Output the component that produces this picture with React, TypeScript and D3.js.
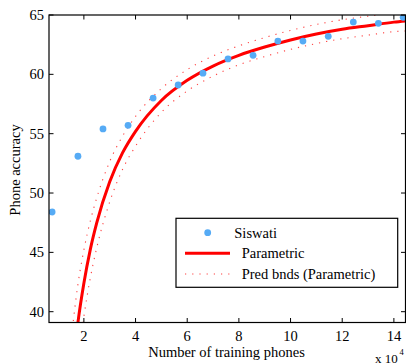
import React from "react";
import * as d3 from "d3";

// measured data (x in units of 10^4 phones)
const phones = [0.77, 1.77, 2.74, 3.71, 4.68, 5.65, 6.61, 7.58, 8.55, 9.51, 10.48, 11.46, 12.43, 13.4, 14.36];
const accuracy = [48.4, 53.1, 55.4, 55.7, 58.0, 59.1, 60.1, 61.3, 61.6, 62.8, 62.8, 63.2, 64.4, 64.3, 64.8];

// parametric fit and prediction bounds
const fitPhones = [1.5, 1.6, 1.77, 2.0, 2.25, 2.5, 3.0, 3.5, 4.0, 5.0, 6.0, 7.0, 8.0, 9.0, 10, 11, 12, 13, 14, 14.45];
const fitAccuracy = [33.8, 36.0, 39.1, 42.4, 45.25, 47.5, 50.95, 53.4, 55.2, 57.8, 59.5, 60.7, 61.6, 62.3, 62.9, 63.4, 63.8, 64.1, 64.4, 64.5];
const upperBound = [37.4, 39.4, 42.3, 45.2, 47.65, 49.6, 52.65, 54.8, 56.45, 58.8, 60.4, 61.55, 62.4, 63.1, 63.7, 64.2, 64.6, 64.9, 65.2, 65.35];
const lowerBound = [30.0, 32.6, 35.9, 39.6, 42.85, 45.4, 49.25, 52.0, 53.95, 56.8, 58.6, 59.85, 60.8, 61.5, 62.1, 62.6, 63.0, 63.3, 63.6, 63.65];

const xTicks = [2, 4, 6, 8, 10, 12, 14];
const yTicks = [40, 45, 50, 55, 60, 65];
const legendLabels = ["Siswati", "Parametric", "Pred bnds (Parametric)"];

const W = 406;
const H = 364;
const m = { left: 49, right: 405.5, top: 15, bottom: 322.5 };
const font = "'Liberation Serif', 'Times New Roman', serif";
const fs = 14.5;

export default function App() {
  const x = d3.scaleLinear().domain([0.65, 14.45]).range([m.left, m.right]);
  const y = d3.scaleLinear().domain([40, 65]).range([311.7, m.top]);

  const line = d3
    .line<number>()
    .x((d, i) => x(fitPhones[i]))
    .curve(d3.curveMonotoneX);
  const fitPath = line.y((d) => y(d))(fitAccuracy) ?? "";
  const upPath = line.y((d) => y(d))(upperBound) ?? "";
  const lowPath = line.y((d) => y(d))(lowerBound) ?? "";

  const tick = 4.5;
  const blue = "#56abf5";

  return (
    <svg
      width={W}
      height={H}
      style={{ position: "absolute", left: 0, top: 0, background: "#fff" }}
      fontFamily={font}
    >
      <defs>
        <clipPath id="plot">
          <rect x={m.left} y={m.top} width={m.right - m.left} height={m.bottom - m.top} />
        </clipPath>
      </defs>

      <g clipPath="url(#plot)">
        <path d={upPath} fill="none" stroke="#ff4040" strokeWidth={1.1} strokeDasharray="1.2 6" />
        <path d={lowPath} fill="none" stroke="#ff4040" strokeWidth={1.1} strokeDasharray="1.2 6" />
        <path d={fitPath} fill="none" stroke="#ff0000" strokeWidth={3} />
        {phones.map((p, i) => (
          <circle key={i} cx={x(p)} cy={y(accuracy[i])} r={3.4} fill={blue} />
        ))}
      </g>

      {/* frame */}
      <rect
        x={m.left}
        y={m.top}
        width={m.right - m.left}
        height={m.bottom - m.top}
        fill="none"
        stroke="#000"
        strokeWidth={1.2}
      />

      {xTicks.map((t) => (
        <g key={"x" + t}>
          <line x1={x(t)} x2={x(t)} y1={m.bottom} y2={m.bottom - tick} stroke="#000" />
          <line x1={x(t)} x2={x(t)} y1={m.top} y2={m.top + tick} stroke="#000" />
          <text x={x(t)} y={341} textAnchor="middle" fontSize={fs}>
            {t}
          </text>
        </g>
      ))}

      {yTicks.map((t) => (
        <g key={"y" + t}>
          <line x1={m.left} x2={m.left + tick} y1={y(t)} y2={y(t)} stroke="#000" />
          <line x1={m.right} x2={m.right - tick} y1={y(t)} y2={y(t)} stroke="#000" />
          <text x={44} y={y(t) + 5} textAnchor="end" fontSize={fs}>
            {t}
          </text>
        </g>
      ))}

      <text x={226.5} y={357} textAnchor="middle" fontSize={fs}>
        Number of training phones
      </text>
      <text x={375} y={362.5} fontSize={fs - 1.5}>
        x 10
      </text>
      <text x={399.5} y={354.5} fontSize={8.5}>
        4
      </text>
      <text
        transform="translate(20,170) rotate(-90)"
        textAnchor="middle"
        fontSize={fs}
      >
        Phone accuracy
      </text>

      {/* legend */}
      <rect x={176} y={218.3} width={221.7} height={69} fill="#fff" stroke="#000" strokeWidth={1.2} />
      <circle cx={207.7} cy={232.7} r={3.4} fill={blue} />
      <text x={234.3} y={237.5} fontSize={fs}>
        {legendLabels[0]}
      </text>
      <line x1={185} x2={230} y1={253.3} y2={253.3} stroke="#ff0000" strokeWidth={3} />
      <text x={241.7} y={258} fontSize={fs}>
        {legendLabels[1]}
      </text>
      <line x1={185} x2={230} y1={274} y2={274} stroke="#ff4040" strokeWidth={1.1} strokeDasharray="1.2 6" />
      <text x={241.7} y={279} fontSize={fs}>
        {legendLabels[2]}
      </text>
    </svg>
  );
}
